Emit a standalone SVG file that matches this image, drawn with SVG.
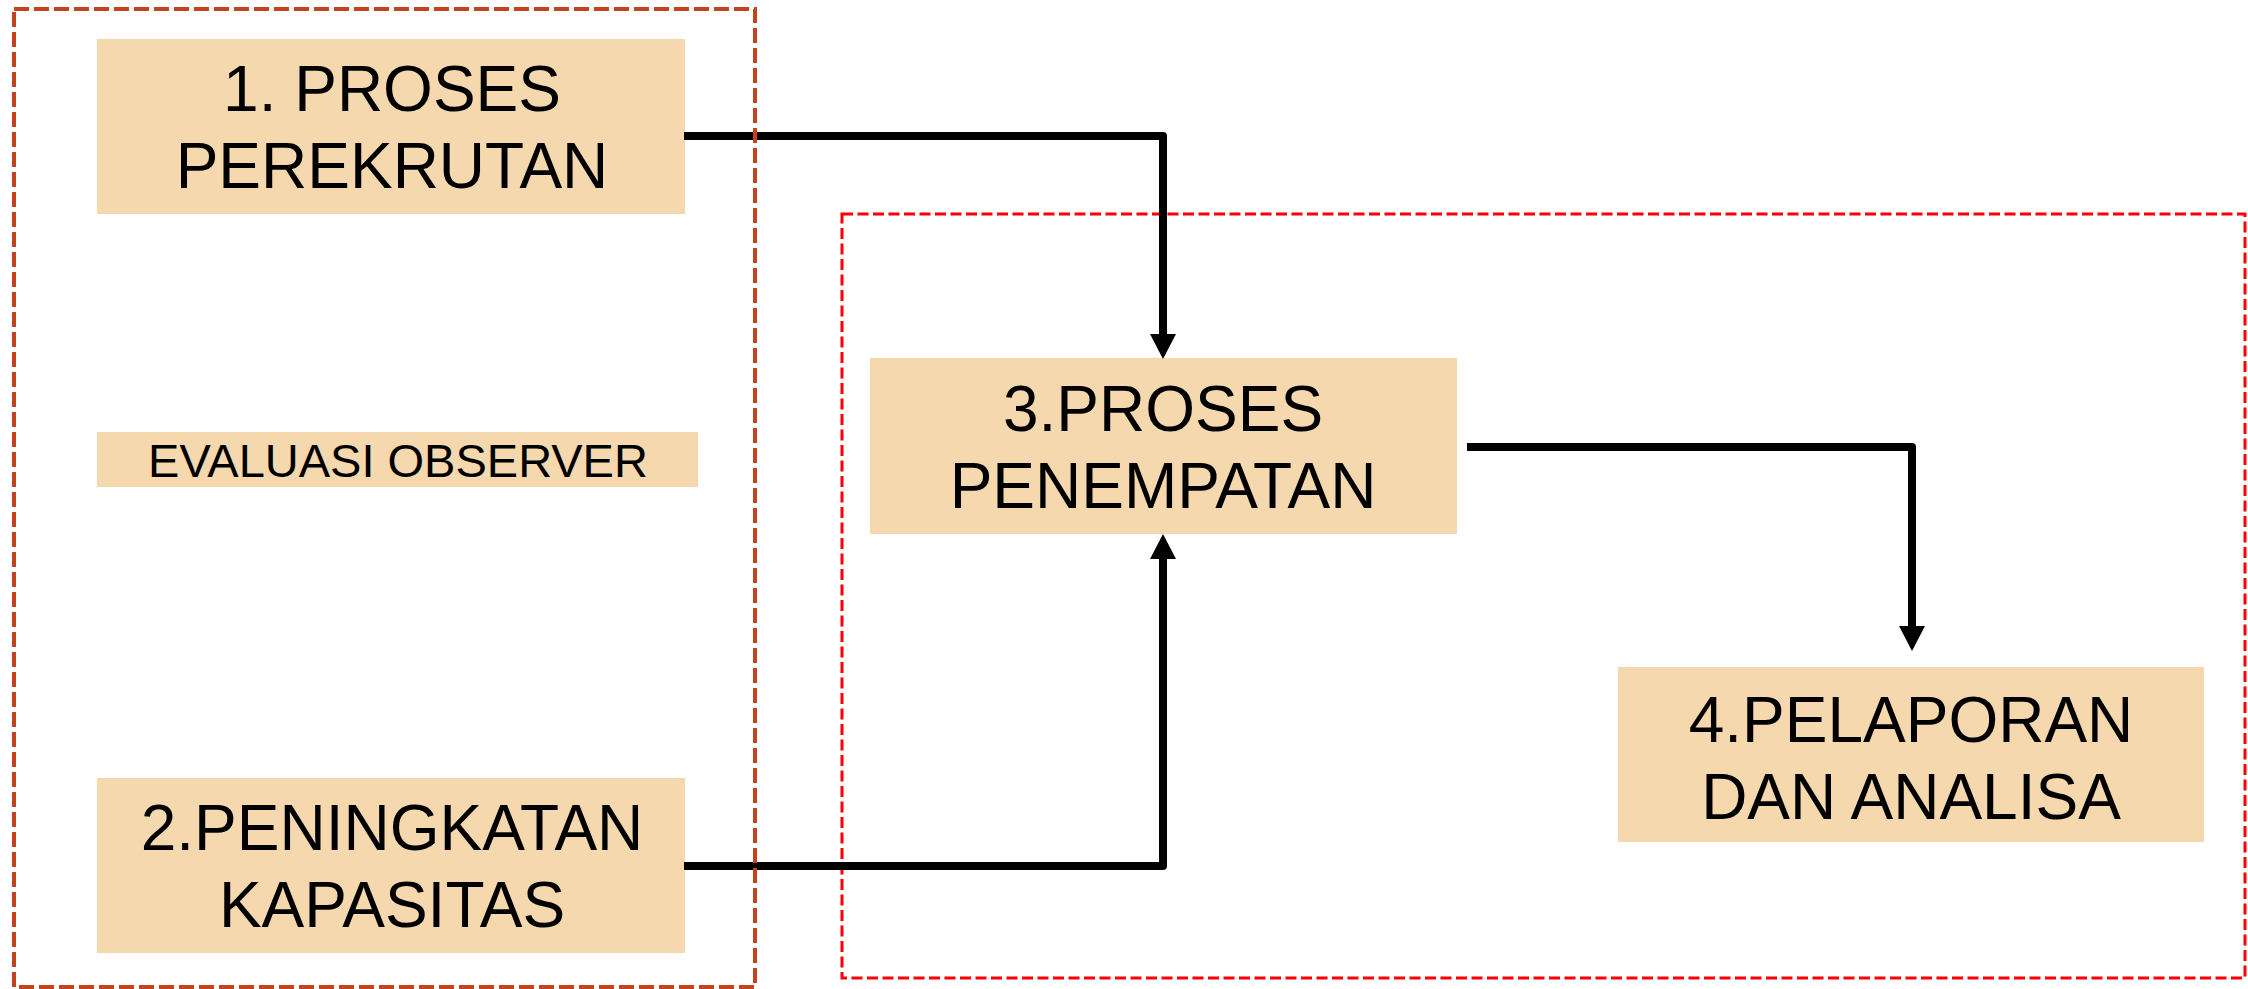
<svg xmlns="http://www.w3.org/2000/svg" width="2248" height="989" viewBox="0 0 2248 989">
<style>
.node rect{fill:#F5D8AD;stroke:none}
.node text{font-family:"Liberation Sans",Arial,sans-serif;font-size:64px;fill:#000;text-anchor:middle}
.node text.small{font-size:47px}
.conn path{fill:none;stroke:#000;stroke-width:8;stroke-linejoin:round;marker-end:url(#arrow)}
.grp-left{fill:none;stroke:#C4431C;stroke-width:4;stroke-dasharray:15 5}
.grp-right{fill:none;stroke:#FF0000;stroke-width:3;stroke-dasharray:11 4.5}
</style>
<defs>
<marker id="arrow" viewBox="0 0 25 26" refX="0" refY="13" markerWidth="25" markerHeight="26" markerUnits="userSpaceOnUse" orient="auto">
<path d="M0,0 L25,13 L0,26 z" fill="#000"/>
</marker>
</defs>
<rect width="2248" height="989" fill="#fff"/>
<rect class="grp-right" x="842" y="214" width="1403" height="764"/>
<g id="node1" class="node">
<rect x="97" y="39" width="588" height="175"/>
<text x="392" y="111">1. PROSES</text>
<text x="392" y="188">PEREKRUTAN</text>
</g>
<g id="evaluasi" class="node">
<rect x="97" y="432" width="601" height="55"/>
<text class="small" x="398" y="477">EVALUASI OBSERVER</text>
</g>
<g id="node2" class="node">
<rect x="97" y="778" width="588" height="175"/>
<text x="392" y="850">2.PENINGKATAN</text>
<text x="392" y="927">KAPASITAS</text>
</g>
<g id="node3" class="node">
<rect x="870" y="358" width="587" height="176"/>
<text x="1163" y="431">3.PROSES</text>
<text x="1163" y="508">PENEMPATAN</text>
</g>
<g id="node4" class="node">
<rect x="1618" y="667" width="586" height="175"/>
<text x="1911" y="742">4.PELAPORAN</text>
<text x="1911" y="819">DAN ANALISA</text>
</g>
<g id="connectors" class="conn">
<path d="M684,136 H1163 V334"/>
<path d="M684,866 H1163 V559"/>
<path d="M1467,447 H1912 V626"/>
</g>
<rect class="grp-left" x="14" y="9" width="741" height="978"/>
</svg>
